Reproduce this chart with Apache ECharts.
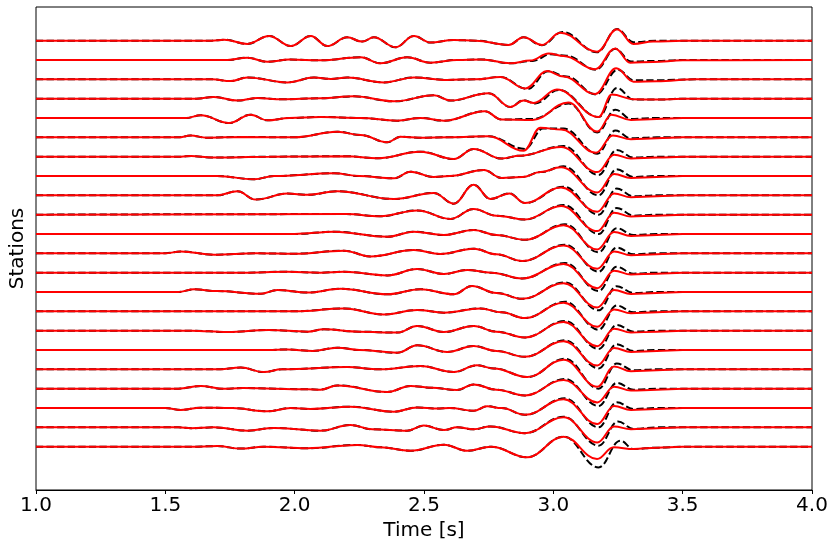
<!DOCTYPE html>
<html>
<head>
<meta charset="utf-8">
<script src="https://cdn.jsdelivr.net/npm/echarts@6/dist/echarts.min.js"></script>
<style>
html,body{margin:0;padding:0;background:#fff;}
#chart{width:835px;height:547px;}
</style>
</head>
<body>
<div id="chart"></div>
<script>
// ---- Data: each trace is a list of [time (s), amplitude] turning points ----
// Red (solid) traces, top station first
const red00 = [[1,0],[1.68,0],[1.727,0.05],[1.817,-0.17],[1.901,0.24],[1.985,-0.28],[2.062,0.24],[2.126,-0.28],[2.203,0.17],[2.261,-0.05],[2.306,0.17],[2.390,-0.34],[2.461,0.24],[2.525,-0.1],[2.614,0.03],[2.70,0],[2.827,-0.22],[2.885,0.17],[2.956,-0.22],[3.027,0.41],[3.169,-0.57],[3.246,0.59],[3.310,-0.17],[3.386,-0.05],[3.5,0],[4,0]];
const red01 = [[1,0],[1.74,0],[1.817,0.12],[1.894,-0.09],[1.98,0.02],[2.10,-0.02],[2.255,0.14],[2.332,-0.17],[2.435,0.14],[2.525,-0.14],[2.628,0],[2.72,0.03],[2.834,-0.17],[2.911,-0.03],[2.982,0.34],[3.040,0.21],[3.162,-0.48],[3.239,0.60],[3.297,-0.14],[3.386,-0.1],[3.5,-0.02],[4,0]];
const red02 = [[1,0],[1.68,0],[1.753,-0.09],[1.817,0.10],[1.972,-0.16],[2.075,0.09],[2.14,0.02],[2.203,0.09],[2.345,-0.16],[2.461,0.10],[2.590,-0.03],[2.70,0],[2.795,0.12],[2.892,-0.47],[2.976,0.43],[3.040,0.14],[3.162,-0.76],[3.243,0.57],[3.310,-0.12],[3.40,-0.1],[3.55,0],[4,0]];
const red03 = [[1,0],[1.62,0],[1.688,0.09],[1.779,-0.10],[1.856,0.03],[1.95,-0.03],[2.10,0.02],[2.229,0.12],[2.384,-0.14],[2.538,0.17],[2.602,-0.10],[2.75,0.28],[2.834,-0.43],[2.885,-0.1],[2.924,-0.22],[3.014,0.47],[3.175,-0.95],[3.226,0.21],[3.31,-0.03],[3.40,-0.05],[3.5,0],[4,0]];
const red04 = [[1,0],[1.58,0],[1.637,0.14],[1.746,-0.26],[1.830,0.17],[1.894,-0.12],[1.98,0],[2.10,0.05],[2.255,0],[2.396,-0.14],[2.486,0],[2.577,-0.14],[2.735,0.35],[2.80,-0.08],[2.92,-0.1],[3.058,0.8],[3.17,-0.7],[3.225,0.17],[3.30,-0.1],[3.4,-0.05],[3.5,0],[4,0]];
const red05 = [[1,0],[1.55,0],[1.598,0.09],[1.66,-0.02],[1.80,0.02],[2.0,0],[2.165,0.29],[2.255,0.12],[2.358,-0.26],[2.409,0.03],[2.486,-0.02],[2.60,0],[2.75,0.05],[2.885,-0.7],[2.95,0.5],[3.03,0.4],[3.165,-0.8],[3.23,0.1],[3.30,-0.1],[3.4,-0.05],[3.5,0],[4,0]];
const red06 = [[1,0],[1.56,0],[1.60,0.03],[1.68,-0.05],[1.9,0],[2.2,0.02],[2.32,-0.08],[2.486,0.26],[2.615,-0.12],[2.692,0.40],[2.80,-0.1],[2.87,0.05],[3.03,0.5],[3.17,-0.8],[3.235,0.1],[3.30,-0.1],[3.4,-0.05],[3.5,0],[4,0]];
const red07 = [[1,0],[1.7,0],[1.843,-0.17],[1.92,0],[2.152,0.14],[2.25,0],[2.384,-0.12],[2.448,0.22],[2.538,-0.05],[2.60,0],[2.731,0.31],[2.80,-0.1],[2.88,-0.05],[2.95,0.2],[3.03,0.45],[3.17,-0.85],[3.235,0.1],[3.30,-0.1],[3.4,-0.05],[3.5,0],[4,0]];
const red08 = [[1,0],[1.70,0],[1.779,0.21],[1.849,-0.22],[1.972,0.09],[2.05,0.03],[2.165,0.21],[2.384,-0.19],[2.538,0.12],[2.615,-0.43],[2.692,0.55],[2.757,-0.19],[2.83,0.1],[2.89,-0.4],[3.03,0.4],[3.17,-0.85],[3.235,0.1],[3.30,-0.1],[3.4,-0.05],[3.5,0],[4,0]];
const red09 = [[1,0],[2.2,0.03],[2.33,-0.08],[2.474,0.22],[2.602,-0.22],[2.692,0.29],[2.78,-0.05],[2.89,-0.25],[3.03,0.45],[3.17,-0.85],[3.235,0.1],[3.30,-0.1],[3.4,-0.05],[3.5,0],[4,0]];
const red10 = [[1,0],[2.0,0],[2.152,0.12],[2.358,-0.14],[2.461,0.12],[2.577,-0.05],[2.692,0.21],[2.78,-0.05],[2.89,-0.3],[3.04,0.45],[3.17,-0.8],[3.235,0.1],[3.30,-0.1],[3.4,-0.05],[3.5,0],[4,0]];
const red11 = [[1,0],[1.50,0],[1.560,0.1],[1.688,-0.07],[1.85,0],[2.00,-0.02],[2.190,0.14],[2.293,-0.16],[2.461,0.17],[2.564,-0.03],[2.692,0.24],[2.78,-0.05],[2.88,-0.4],[3.04,0.4],[3.17,-0.8],[3.235,0.1],[3.30,-0.1],[3.4,-0.05],[3.5,0],[4,0]];
const red12 = [[1,0],[1.8,0],[1.97,0.05],[2.10,0],[2.19,0.05],[2.358,-0.14],[2.474,0.19],[2.577,-0.07],[2.667,0.14],[2.76,0],[2.88,-0.3],[3.04,0.45],[3.17,-0.8],[3.235,0.1],[3.30,-0.1],[3.4,-0.05],[3.5,0],[4,0]];
const red13 = [[1,0],[1.55,0],[1.611,0.14],[1.70,0.05],[1.869,-0.09],[1.933,0.1],[2.05,-0.03],[2.178,0.17],[2.358,-0.12],[2.486,0.14],[2.615,-0.12],[2.685,0.31],[2.78,-0.05],[2.88,-0.35],[3.04,0.45],[3.17,-0.8],[3.235,0.1],[3.30,-0.1],[3.4,-0.05],[3.5,0],[4,0]];
const red14 = [[1,0],[2.0,0],[2.190,0.15],[2.345,-0.16],[2.474,0.07],[2.577,-0.07],[2.718,0.15],[2.80,-0.05],[2.89,-0.35],[3.04,0.45],[3.17,-0.8],[3.235,0.1],[3.30,-0.1],[3.4,-0.05],[3.5,0],[4,0]];
const red15 = [[1,0],[1.6,0],[1.740,-0.07],[1.90,0.03],[2.05,-0.05],[2.113,0.07],[2.25,-0.05],[2.396,-0.1],[2.474,0.24],[2.577,-0.07],[2.692,0.24],[2.78,-0.05],[2.89,-0.35],[3.04,0.45],[3.17,-0.8],[3.235,0.1],[3.30,-0.1],[3.4,-0.05],[3.5,0],[4,0]];
const red16 = [[1,0],[1.9,0],[1.97,0.03],[2.07,-0.05],[2.165,0.12],[2.25,0],[2.396,-0.14],[2.474,0.24],[2.590,-0.1],[2.692,0.21],[2.78,-0.05],[2.89,-0.35],[3.04,0.45],[3.17,-0.8],[3.235,0.1],[3.30,-0.1],[3.4,-0.05],[3.5,0],[4,0]];
const red17 = [[1,0],[1.70,0],[1.792,0.09],[1.881,-0.14],[1.95,0],[2.203,0.12],[2.33,0],[2.486,0.17],[2.615,-0.14],[2.705,0.21],[2.77,0.05],[2.90,-0.4],[3.04,0.5],[3.17,-0.9],[3.235,0.15],[3.30,-0.1],[3.4,-0.05],[3.5,0],[4,0]];
const red18 = [[1,0],[1.55,0],[1.637,0.14],[1.72,0],[1.80,0.03],[2.05,-0.03],[2.10,-0.05],[2.165,0.17],[2.358,-0.17],[2.448,0.14],[2.53,0.05],[2.628,-0.07],[2.692,0.22],[2.78,-0.05],[2.89,-0.35],[3.04,0.45],[3.17,-0.71],[3.235,0.1],[3.30,-0.1],[3.4,-0.05],[3.5,0],[4,0]];
const red19 = [[1,0],[1.50,0],[1.560,-0.1],[1.637,0.02],[1.76,0],[1.894,-0.17],[1.985,0],[2.06,-0.05],[2.216,0.07],[2.384,-0.19],[2.474,0.03],[2.55,-0.03],[2.60,0],[2.692,-0.14],[2.744,0.09],[2.80,0],[2.89,-0.35],[3.04,0.45],[3.17,-0.83],[3.235,0.1],[3.30,-0.1],[3.4,-0.05],[3.5,0],[4,0]];
const red20 = [[1,0],[1.55,0],[1.60,-0.05],[1.688,0],[1.817,-0.17],[1.92,-0.03],[2.100,-0.17],[2.216,0.12],[2.30,-0.1],[2.435,-0.17],[2.499,0.09],[2.577,-0.14],[2.628,0],[2.692,-0.1],[2.757,0.05],[2.89,-0.3],[3.04,0.52],[3.17,-0.78],[3.235,0.05],[3.30,-0.1],[3.4,-0.05],[3.5,0],[4,0]];
const red21 = [[1,0],[1.60,0],[1.701,0.03],[1.792,-0.1],[1.88,0],[2.05,-0.08],[2.242,0.09],[2.33,-0.03],[2.448,-0.21],[2.577,0.1],[2.667,-0.21],[2.76,0],[2.898,-0.55],[3.04,0.52],[3.169,-0.64],[3.233,-0.03],[3.31,-0.12],[3.4,-0.05],[3.5,0],[4,0]];

// Black (dashed) traces: only the window where they differ from the red ones
const blk00 = [[2.70,0],[2.827,-0.22],[2.885,0.17],[2.956,-0.24],[3.035,0.45],[3.169,-0.6],[3.246,0.6],[3.31,-0.08],[3.4,0],[3.5,0]];
const blk01 = [[2.72,0.03],[2.834,-0.17],[2.92,-0.05],[2.99,0.3],[3.05,0.22],[3.165,-0.5],[3.24,0.58],[3.30,-0.08],[3.4,-0.05],[3.5,0]];
const blk02 = [[2.795,0.12],[2.90,-0.5],[2.98,0.42],[3.05,0.15],[3.165,-0.78],[3.25,0.5],[3.31,-0.05],[3.4,-0.05],[3.55,0]];
const blk03 = [[2.75,0.28],[2.834,-0.43],[2.885,-0.08],[2.93,-0.25],[3.02,0.45],[3.175,-0.95],[3.246,0.55],[3.31,-0.05],[3.4,-0.05],[3.5,0]];
const blk04 = [[2.735,0.35],[2.80,-0.08],[2.92,-0.05],[3.06,0.75],[3.17,-0.75],[3.24,0.43],[3.30,-0.05],[3.4,0],[3.5,0]];
const blk05 = [[2.75,0.05],[2.89,-0.6],[2.96,0.45],[3.04,0.45],[3.17,-0.85],[3.24,0.35],[3.30,-0.05],[3.4,0],[3.5,0]];
const blk06 = [[2.80,-0.1],[2.87,0.05],[3.04,0.55],[3.175,-0.95],[3.245,0.35],[3.31,-0.05],[3.4,0],[3.5,0]];
const blk07 = [[2.80,-0.1],[2.88,-0.05],[2.95,0.2],[3.04,0.5],[3.175,-1.0],[3.245,0.35],[3.31,-0.05],[3.4,0],[3.5,0]];
const blk08 = [[2.757,-0.19],[2.83,0.1],[2.89,-0.4],[3.04,0.45],[3.175,-1.0],[3.245,0.35],[3.31,-0.05],[3.4,0],[3.5,0]];
const blk09 = [[2.78,-0.05],[2.89,-0.25],[3.04,0.5],[3.175,-1.0],[3.245,0.35],[3.31,-0.05],[3.4,0],[3.5,0]];
const blk10 = [[2.78,-0.05],[2.89,-0.3],[3.045,0.5],[3.175,-0.95],[3.245,0.3],[3.31,-0.05],[3.4,0],[3.5,0]];
const blk11 = [[2.78,-0.05],[2.88,-0.4],[3.045,0.45],[3.175,-0.95],[3.245,0.3],[3.31,-0.05],[3.4,0],[3.5,0]];
const blk12 = [[2.76,0],[2.88,-0.3],[3.045,0.5],[3.175,-0.95],[3.245,0.3],[3.31,-0.05],[3.4,0],[3.5,0]];
const blk13 = [[2.78,-0.05],[2.88,-0.35],[3.045,0.5],[3.175,-0.95],[3.245,0.3],[3.31,-0.05],[3.4,0],[3.5,0]];
const blk14 = [[2.80,-0.05],[2.89,-0.35],[3.045,0.5],[3.175,-0.95],[3.245,0.3],[3.31,-0.05],[3.4,0],[3.5,0]];
const blk15 = [[2.78,-0.05],[2.89,-0.35],[3.045,0.5],[3.175,-0.95],[3.245,0.3],[3.31,-0.05],[3.4,0],[3.5,0]];
const blk16 = [[2.78,-0.05],[2.89,-0.35],[3.045,0.5],[3.175,-0.95],[3.245,0.3],[3.31,-0.05],[3.4,0],[3.5,0]];
const blk17 = [[2.77,0.05],[2.90,-0.4],[3.045,0.55],[3.175,-1.0],[3.245,0.3],[3.31,-0.05],[3.4,0],[3.5,0]];
const blk18 = [[2.78,-0.05],[2.89,-0.35],[3.045,0.5],[3.175,-0.9],[3.245,0.3],[3.31,-0.05],[3.4,0],[3.5,0]];
const blk19 = [[2.80,0],[2.89,-0.35],[3.045,0.5],[3.175,-1.0],[3.245,0.3],[3.31,-0.05],[3.4,0],[3.5,0]];
const blk20 = [[2.757,0.05],[2.89,-0.3],[3.04,0.55],[3.175,-0.95],[3.25,0.3],[3.31,-0.08],[3.4,0],[3.5,0]];
const blk21 = [[2.76,0],[2.898,-0.55],[3.04,0.52],[3.175,-1.07],[3.259,0.31],[3.31,-0.12],[3.4,-0.05],[3.5,0]];

const xTicks = [1.0, 1.5, 2.0, 2.5, 3.0, 3.5, 4.0];

// ---- Build series ----
const redTraces = [red00,red01,red02,red03,red04,red05,red06,red07,red08,red09,red10,red11,red12,red13,red14,red15,red16,red17,red18,red19,red20,red21];
const blkTraces = [blk00,blk01,blk02,blk03,blk04,blk05,blk06,blk07,blk08,blk09,blk10,blk11,blk12,blk13,blk14,blk15,blk16,blk17,blk18,blk19,blk20,blk21];

function mergeBlack(red, blk) {
  const t0 = blk[0][0], t1 = blk[blk.length - 1][0];
  return red.filter(p => p[0] < t0).concat(blk, red.filter(p => p[0] > t1));
}
function shift(pts, k) { return pts.map(p => [p[0], p[1] - k]); }

const series = [];
blkTraces.forEach((b, k) => {
  series.push({
    type: 'line', data: shift(mergeBlack(redTraces[k], b), k),
    showSymbol: false, smooth: 0.4, smoothMonotone: 'x', silent: true,
    lineStyle: { color: '#000000', width: 2, type: [7.4, 3.2] }, z: 2
  });
});
redTraces.forEach((r, k) => {
  series.push({
    type: 'line', data: shift(r, k),
    showSymbol: false, smooth: 0.4, smoothMonotone: 'x', silent: true,
    lineStyle: { color: '#ff0000', width: 2 }, z: 3
  });
});

const chart = echarts.init(document.getElementById('chart'), null, { renderer: 'canvas' });
const font = 'DejaVu Sans';
chart.setOption({
  animation: false,
  backgroundColor: '#ffffff',
  grid: { left: 35, right: 23, top: 7, bottom: 57, show: true, borderColor: '#000', borderWidth: 1, backgroundColor: 'transparent' },
  xAxis: {
    type: 'value', min: 1, max: 4, interval: 0.5,
    axisLine: { show: true, onZero: false, lineStyle: { color: '#000', width: 1 } },
    axisTick: { show: true, length: 4, lineStyle: { color: '#000' } },
    splitLine: { show: false },
    axisLabel: { color: '#000', fontSize: 20, fontFamily: font, margin: 6,
      formatter: v => xTicks.find(t => Math.abs(t - v) < 1e-6).toFixed(1) },
    name: 'Time [s]', nameLocation: 'middle', nameGap: 30,
    nameTextStyle: { color: '#000', fontSize: 20, fontFamily: font }
  },
  yAxis: {
    type: 'value', min: -23.24, max: 1.74,
    axisLine: { show: false }, axisTick: { show: false }, axisLabel: { show: false },
    splitLine: { show: false },
    name: 'Stations', nameLocation: 'middle', nameGap: 8, nameRotate: 90,
    nameTextStyle: { color: '#000', fontSize: 20, fontFamily: font }
  },
  series: series
});
</script>
</body>
</html>
